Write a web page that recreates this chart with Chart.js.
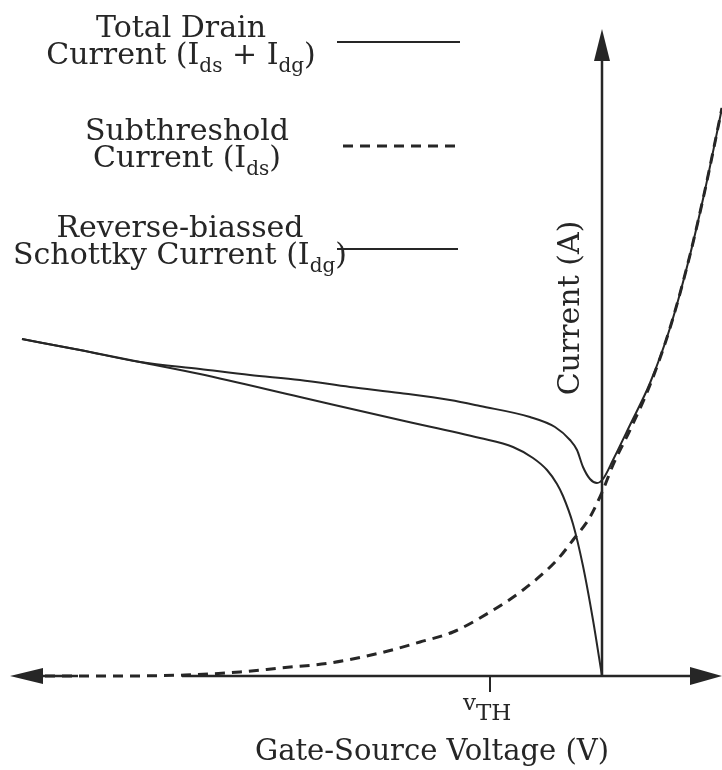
<!DOCTYPE html>
<html>
<head>
<meta charset="utf-8">
<title>Drain current vs gate-source voltage</title>
<script src="https://cdn.jsdelivr.net/npm/chart.js@4.4.1/dist/chart.umd.min.js"></script>
<style>
  html, body { margin: 0; padding: 0; background: #fff; }
  canvas { display: block; }
</style>
</head>
<body>
<canvas id="myChart" width="722" height="770"></canvas>
<script>
// Total drain current (Ids + Idg)
const totalV = [-5.80, -5.22, -4.62, -4.02, -3.52, -3.02, -2.52, -2.02, -1.52, -1.22, -0.72, -0.47,
                -0.32, -0.25, -0.19, -0.12, -0.05, 0.01, 0.11, 0.28, 0.48, 0.68, 0.88, 1.03, 1.20];
const totalI = [3.37, 3.26, 3.14, 3.07, 3.01, 2.96, 2.89, 2.83, 2.76, 2.70, 2.59, 2.49,
                2.36, 2.26, 2.09, 1.97, 1.93, 1.97, 2.16, 2.51, 2.93, 3.48, 4.21, 4.86, 5.68];

// Subthreshold current (Ids)
const subV = [-5.57, -4.82, -4.17, -3.62, -3.22, -2.72, -2.22, -1.82, -1.49, -1.12, -0.79,
              -0.45, -0.29, -0.12, 0.01, 0.11, 0.28, 0.48, 0.68, 0.88, 1.03, 1.20];
const subI = [0.00, 0.00, 0.01, 0.04, 0.08, 0.13, 0.23, 0.34, 0.44, 0.64, 0.86,
              1.16, 1.36, 1.59, 1.86, 2.11, 2.46, 2.91, 3.48, 4.21, 4.86, 5.68];

// Reverse-biassed Schottky current (Idg)
const schottkyV = [-5.80, -5.22, -4.62, -4.02, -3.02, -2.02, -1.22, -0.89, -0.69, -0.55, -0.45,
                   -0.39, -0.29, -0.19, -0.09, 0.00];
const schottkyI = [3.37, 3.26, 3.14, 3.02, 2.79, 2.56, 2.38, 2.29, 2.18, 2.06, 1.92,
                   1.80, 1.52, 1.10, 0.56, 0.00];

// threshold voltage marker on the V axis
const vth = -1.12;

// legend text, each line is a list of [text, isSubscript]
const legendText = [
  [[['Total Drain', false]], [['Current (I', false], ['ds', true], [' + I', false], ['dg', true], [')', false]]],
  [[['Subthreshold', false]], [['Current (I', false], ['ds', true], [')', false]]],
  [[['Reverse-biassed', false]], [['Schottky Current (I', false], ['dg', true], [')', false]]]
];

const ink = '#262626';
const serif = '"DejaVu Serif", serif';

const toPoints = (xs, ys) => xs.map((x, i) => ({ x: x, y: ys[i] }));

function drawRich(ctx, parts, cx, y, size) {
  const subSize = Math.round(size * 0.68);
  let w = 0;
  parts.forEach(p => {
    ctx.font = (p[1] ? subSize : size) + 'px ' + serif;
    w += ctx.measureText(p[0]).width;
  });
  let x = cx - w / 2;
  parts.forEach(p => {
    ctx.font = (p[1] ? subSize : size) + 'px ' + serif;
    ctx.fillText(p[0], x, p[1] ? y + size * 0.27 : y);
    x += ctx.measureText(p[0]).width;
  });
}

function line(ctx, x1, y1, x2, y2) {
  ctx.beginPath();
  ctx.moveTo(x1, y1);
  ctx.lineTo(x2, y2);
  ctx.stroke();
}

function tri(ctx, pts) {
  ctx.beginPath();
  ctx.moveTo(pts[0][0], pts[0][1]);
  ctx.lineTo(pts[1][0], pts[1][1]);
  ctx.lineTo(pts[2][0], pts[2][1]);
  ctx.closePath();
  ctx.fill();
}

const sketchAxes = {
  id: 'sketchAxes',
  beforeDatasetsDraw(chart) {
    const ctx = chart.ctx;
    const xs = chart.scales.x, ys = chart.scales.y;
    const x0 = xs.getPixelForValue(0), y0 = ys.getPixelForValue(0);
    const left = xs.left, right = xs.right, top = ys.top;
    ctx.save();
    ctx.strokeStyle = ink;
    ctx.fillStyle = ink;
    ctx.lineWidth = 2.5;
    // horizontal axis (hidden under the dashes on the far left)
    line(ctx, left + 40, y0, left + 78, y0);
    line(ctx, left + 182, y0, right - 28, y0);
    tri(ctx, [[left + 10, y0], [left + 43, y0 - 8], [left + 43, y0 + 8]]);
    tri(ctx, [[right, y0], [right - 32, y0 - 9], [right - 32, y0 + 9]]);
    // vertical axis
    line(ctx, x0, y0, x0, top + 58);
    tri(ctx, [[x0, top + 29], [x0 - 8, top + 61], [x0 + 8, top + 61]]);
    // VTH tick
    const xv = xs.getPixelForValue(vth);
    ctx.lineWidth = 2;
    line(ctx, xv, y0, xv, y0 + 16);
    ctx.restore();
  },
  afterDraw(chart) {
    const ctx = chart.ctx;
    const xs = chart.scales.x, ys = chart.scales.y;
    const x0 = xs.getPixelForValue(0), y0 = ys.getPixelForValue(0);
    const xv = xs.getPixelForValue(vth);
    ctx.save();
    ctx.fillStyle = ink;
    ctx.textBaseline = 'alphabetic';
    ctx.textAlign = 'left';

    // legend: text block on the left, sample line on the right
    const slots = [
      { cx: 181, base: [37, 64], y: 42, x1: 337, x2: 460 },
      { cx: 187, base: [140, 167], y: 146, x1: 343, x2: 455 },
      { cx: 180, base: [237, 264], y: 249, x1: 337, x2: 458 }
    ];
    chart.data.datasets.forEach((ds, i) => {
      const s = slots[i];
      legendText[i].forEach((ln, j) => drawRich(ctx, ln, s.cx, s.base[j], 30));
      ctx.save();
      ctx.strokeStyle = ds.borderColor;
      ctx.lineWidth = ds.borderWidth;
      ctx.setLineDash(ds.borderDash || []);
      line(ctx, s.x1, s.y, s.x2, s.y);
      ctx.restore();
    });

    // V_TH label
    ctx.font = '23px ' + serif;
    const vw = ctx.measureText('v').width;
    ctx.fillText('v', xv - 27, y0 + 34);
    ctx.fillText('TH', xv - 27 + vw, y0 + 44);

    // axis titles
    ctx.textAlign = 'center';
    ctx.font = '29px ' + serif;
    ctx.fillText('Gate-Source Voltage (V)', 432, 760);
    ctx.save();
    ctx.translate(x0 - 23, 308);
    ctx.rotate(-Math.PI / 2);
    ctx.font = '30px ' + serif;
    ctx.fillText('Current (A)', 0, 0);
    ctx.restore();
    ctx.restore();
  }
};

new Chart(document.getElementById('myChart'), {
  type: 'scatter',
  data: {
    datasets: [{
      label: 'Total Drain Current',
      data: toPoints(totalV, totalI),
      borderColor: ink,
      borderWidth: 2
    }, {
      label: 'Subthreshold Current',
      data: toPoints(subV, subI),
      borderColor: ink,
      borderWidth: 3,
      borderDash: [10, 7]
    }, {
      label: 'Reverse-biassed Schottky Current',
      data: toPoints(schottkyV, schottkyI),
      borderColor: ink,
      borderWidth: 2
    }]
  },
  options: {
    responsive: false,
    animation: false,
    showLine: true,
    elements: {
      point: { radius: 0 },
      line: { cubicInterpolationMode: 'monotone', fill: false }
    },
    layout: { padding: 0 },
    scales: {
      x: { type: 'linear', min: -6.02, max: 1.20, display: false },
      y: { type: 'linear', min: -0.94, max: 6.76, display: false }
    },
    plugins: {
      legend: { display: false },
      tooltip: { enabled: false }
    }
  },
  plugins: [sketchAxes]
});
</script>
</body>
</html>
